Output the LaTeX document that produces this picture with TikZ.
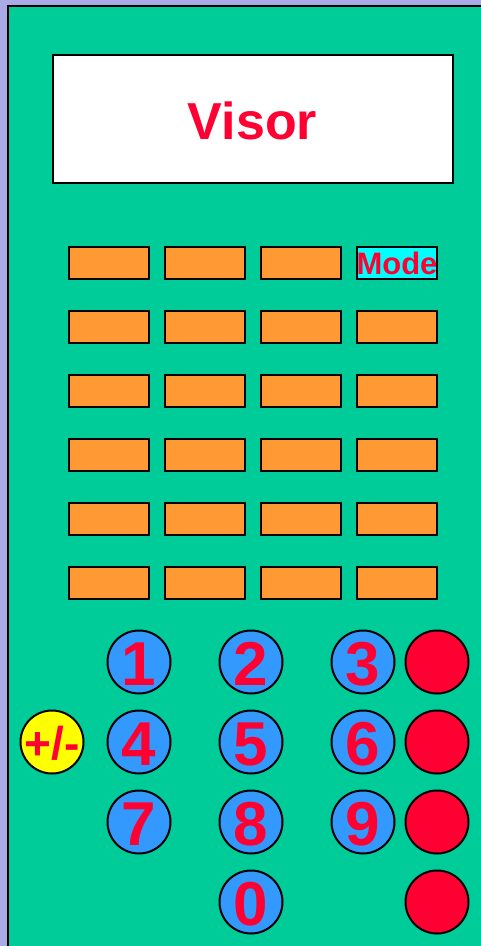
\documentclass[tikz,border=0pt]{standalone}
\usepackage{fontspec}
\setmainfont{Liberation Sans}
\definecolor{lav}{RGB}{170,170,230}
\definecolor{body}{RGB}{0,204,153}
\definecolor{keyor}{RGB}{255,153,51}
\definecolor{keybl}{RGB}{51,153,255}
\definecolor{keyred}{RGB}{255,0,51}
\definecolor{keycy}{RGB}{0,255,255}
\definecolor{keyye}{RGB}{255,255,0}
\tikzset{
  fkey/.style={draw=black, line width=2pt, fill=keyor, minimum width=80pt, minimum height=32pt, inner sep=0pt},
  modekey/.style={fkey, fill=keycy},
  keytext/.style={inner sep=0pt, text=keyred},
  numkey/.style={circle, draw=black, line width=2pt, fill=keybl, minimum size=63pt, inner sep=0pt, text=keyred, font=\bfseries\fontsize{62}{62}\selectfont, text height=45pt, text depth=0pt},
  redkey/.style={circle, draw=black, line width=2pt, fill=keyred, minimum size=63pt, inner sep=0pt},
  signkey/.style={circle, draw=black, line width=2pt, fill=keyye, minimum size=63pt, inner sep=0pt},
  visorbox/.style={draw=black, line width=2pt, fill=white, minimum width=400pt, minimum height=128pt, inner sep=0pt}
}
\begin{document}
\begin{tikzpicture}[x=1pt,y=-1pt]
\useasboundingbox (0,0) rectangle (481,946);
\fill[lav] (0,0) rectangle (481,946);
\begin{scope}
\clip (0,0) rectangle (481,946);
\draw[line width=2pt, fill=body] (8,6) rectangle (495,960);
\end{scope}
\node[visorbox] (visor) at (252.5,118.5) {};
\node[keytext, font=\bfseries\fontsize{52}{52}\selectfont] (visortext) at (252.5,120.5) {Visor};
% function keys
\foreach \r [count=\ri] in {262.5,326.5,390.5,454.5,518.5,582.5}{
  \foreach \c [count=\ci] in {108.5,204.5,300.5,396.5}{
    \ifnum\ri=1 \ifnum\ci=4 \else
      \node[fkey] (f\ri\ci) at (\c,\r) {};
    \fi\else
      \node[fkey] (f\ri\ci) at (\c,\r) {};
    \fi
  }
}
\node[modekey] (mode) at (396.5,262.5) {};
\node[keytext, font=\bfseries\fontsize{31}{31}\selectfont] (modetxt) at (397,263.5) {Mode};
% number keys
\node[numkey] (n1) at (139,662) {};
\node[numkey] (n2) at (251,662) {};
\node[numkey] (n3) at (363,662) {};
\node[numkey] (n4) at (139,742) {};
\node[numkey] (n5) at (251,742) {};
\node[numkey] (n6) at (363,742) {};
\node[numkey] (n7) at (139,822) {};
\node[numkey] (n8) at (251,822) {};
\node[numkey] (n9) at (363,822) {};
\node[numkey] (n0) at (251,902) {};
\foreach \n/\d in {n1/1,n2/2,n3/3,n4/4,n5/5,n6/6,n7/7,n8/8,n9/9,n0/0}{
  \node[keytext, font=\bfseries\fontsize{62}{62}\selectfont] (t\n) at ([yshift=-2pt]\n.center) {\d};
}
\node[signkey] (sign) at (52,742) {};
\node[keytext, font=\bfseries\fontsize{46}{46}\selectfont] (signtxt) at ([yshift=-1pt]sign.center) {+/-};
\node[redkey] (r1) at (437,662) {};
\node[redkey] (r2) at (437,742) {};
\node[redkey] (r3) at (437,822) {};
\node[redkey] (r4) at (437,902) {};
\end{tikzpicture}
\end{document}
